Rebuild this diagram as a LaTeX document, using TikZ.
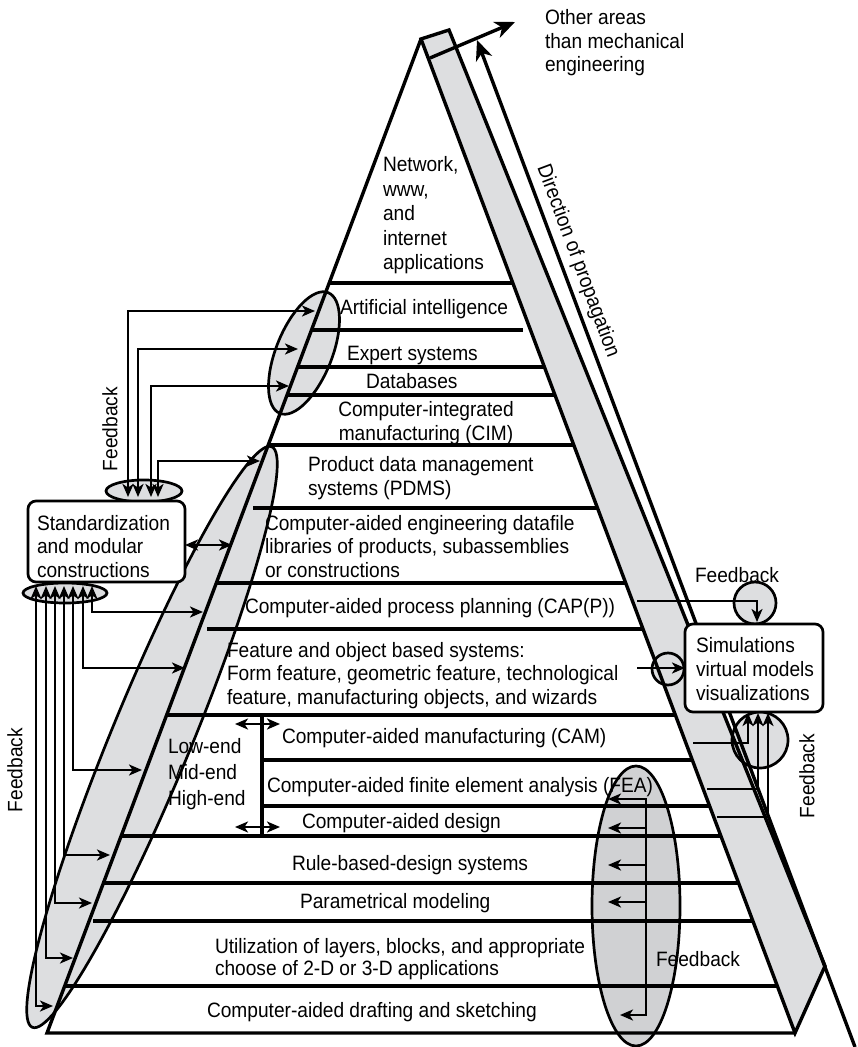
\documentclass[tikz,border=0pt]{standalone}
\usepackage{fontspec}
\setmainfont{Liberation Sans}[FakeStretch=0.92]
\usetikzlibrary{arrows.meta}
\definecolor{bandgray}{RGB}{221,222,224}
\definecolor{ellgray}{RGB}{208,209,211}
\begin{document}
\begin{tikzpicture}[x=0.5pt,y=-0.5pt,
  every node/.style={inner sep=0pt, outer sep=0pt, font=\fontsize{10.4}{11.75}\selectfont},
  txt/.style={anchor=base west, align=left},
  layer/.style={line width=1.7pt},
  conn/.style={line width=1.35pt, -{Stealth[length=6.5pt,width=5.5pt,inset=1.8pt]}},
  dconn/.style={line width=1.35pt, {Stealth[length=6.5pt,width=5.5pt,inset=1.8pt]}-{Stealth[length=6.5pt,width=5.5pt,inset=1.8pt]}},
  ell/.style={line width=1.35pt, fill=bandgray},
  rbox/.style={draw, line width=1.35pt, rounded corners=4pt, fill=white},
  rot/.style={rotate=90, anchor=center},
  bigarrow/.style={line width=1.7pt, -{Stealth[length=10pt,width=8.5pt,inset=3pt]}},
]
\useasboundingbox (0,0) rectangle (857,1047);
% band
\fill[bandgray] (421,39) -- (449,30) -- (825,966) -- (795,1033) -- cycle;
% grey ellipses and circles
\filldraw[ell, rotate around={67.6:(152,737)}] (152,737) ellipse [x radius=314, y radius=40];
\filldraw[ell, rotate around={68.2:(304,353)}] (304,353) ellipse [x radius=65, y radius=28];
\filldraw[ell] (144,491) ellipse [x radius=38, y radius=11];
\filldraw[ell] (65,593) ellipse [x radius=42, y radius=10];
\filldraw[ell] (755,603) circle [radius=21];
\filldraw[ell] (668,669) circle [radius=16];
\filldraw[ell] (760,740) circle [radius=28];
\filldraw[ell, fill=ellgray] (636,906) ellipse [x radius=44, y radius=140];
% band outline
\draw[layer] (421,39) -- (449,30) -- (825,966) -- (795,1033) -- cycle;
% pyramid
\draw[layer] (421,39) -- (47,1033) -- (795,1033);
% propagation arrows
\draw[bigarrow] (855,1047) -- (477,40);
\draw[bigarrow] (430,58) -- (515,22);
% layer lines
\foreach \y/\a/\b in {283/329/513, 330/311/523, 367/298/544, 395/287/555, 445/268/574,
  508/253/597, 583/216/626, 629/207/643, 715/168/675, 760/262/692, 806/262/710,
  836/121/721, 883/102/739, 921/93/753, 986/65/777}
  \draw[layer] (\a,\y) -- (\b,\y);
\draw[layer] (262,715) -- (262,836);
\draw[dconn] (235,724) -- (280,724);
\draw[dconn] (235,827) -- (280,827);
% boxes
\node[rbox, minimum width=78.5pt, minimum height=40.5pt] (std) at (106.5,541.5) {};
\node[rbox, minimum width=69pt, minimum height=44pt] (sim) at (754,668) {};
% left upper feedback
\draw[dconn] (128,497) |- (315,311);
\draw[dconn] (138,497) |- (298,349);
\draw[dconn] (151,497) |- (289,386);
\draw[dconn] (158,497) |- (260,461);
% left lower feedback
\draw[dconn] (92,586) |- (203,612);
\draw[dconn] (83,586) |- (185,668);
\draw[dconn] (73,586) |- (142,770);
\draw[dconn] (64,586) |- (110,855);
\draw[dconn] (55,586) |- (92,903);
\draw[dconn] (46,586) |- (73,958);
\draw[dconn] (36,586) |- (53,1006);
\draw[dconn] (std.east |- 0,545) -- (232,545);
% right feedback
\draw[conn] (637,601) -| (757,622);
\draw[conn] (637,668) -- (sim.west |- 0,668);
\draw[conn] (693,743) -| (748,713);
\draw[conn] (707,789) -| (758,713);
\draw[conn] (717,817) -| (768,713);
\draw[dconn] (608,799) -| (646,1015) -- (620,1015);
\draw[conn] (646,828) -- (608,828);
\draw[conn] (646,865) -- (608,865);
\draw[conn] (646,902) -- (608,902);
% texts (multi-line nodes: base = baseline of last line)
\node[txt, font=\fontsize{10.4}{12.3}\selectfont] (net) at (383,270) {Network,\\www,\\and\\internet\\applications};
\node[txt] (ai) at (340,315) {Artificial intelligence};
\node[txt] (es) at (347,361) {Expert systems};
\node[txt] (db) at (366,388) {Databases};
\node[align=center, anchor=base] (cim) at (426,440) {Computer-integrated\\manufacturing (CIM)};
\node[txt] (pdms) at (308,495) {Product data management\\systems (PDMS)};
\node[txt] (lib) at (265,577) {Computer-aided engineering datafile\\libraries of products, subassemblies\\or constructions};
\node[txt] (capp) at (245,613) {Computer-aided process planning (CAP(P))};
\node[txt] (feat) at (227,704) {Feature and object based systems:\\Form feature, geometric feature, technological\\feature, manufacturing objects, and wizards};
\node[txt] (cam) at (282,743) {Computer-aided manufacturing (CAM)};
\node[txt, font=\fontsize{10.4}{13}\selectfont] (ends) at (168,805) {Low-end\\Mid-end\\High-end};
\node[txt] (fea) at (267,792) {Computer-aided finite element analysis (FEA)};
\node[txt] (cad) at (302,828) {Computer-aided design};
\node[txt] (rule) at (292,870) {Rule-based-design systems};
\node[txt] (param) at (300,908) {Parametrical modeling};
\node[txt, font=\fontsize{10.4}{11}\selectfont] (util) at (215,975) {Utilization of layers, blocks, and appropriate\\choose of 2-D or 3-D applications};
\node[txt] (draft) at (207,1017) {Computer-aided drafting and sketching};
\node[txt] (stdt) at (37,577) {Standardization\\and modular\\constructions};
\node[txt, font=\fontsize{10.4}{12}\selectfont] (simt) at (696,700) {Simulations\\virtual models\\visualizations};
\node[txt] (other) at (545,72) {Other areas\\than mechanical\\engineering};
\node[txt] (fb1) at (695,582) {Feedback};
\node[txt] (fb2) at (656,966) {Feedback};
\node[rot] (fb3) at (807,776) {Feedback};
\node[rot] (fb4) at (110,429) {Feedback};
\node[rot] (fb5) at (15,770) {Feedback};
\node[anchor=base west, rotate=-69.5] (dir) at (537,168) {Direction of propagation};
\end{tikzpicture}
\end{document}
